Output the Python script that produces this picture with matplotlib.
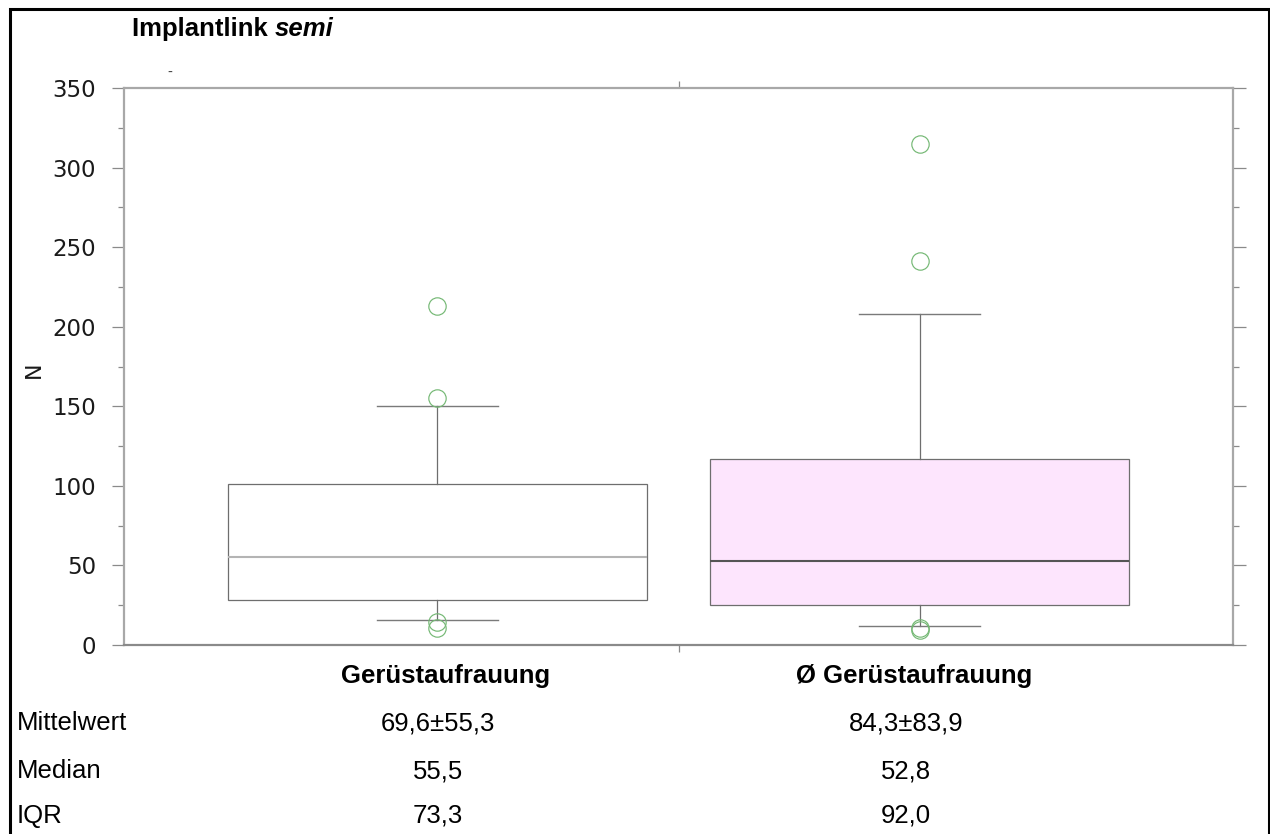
import matplotlib
matplotlib.use("Agg")
from matplotlib import pyplot as plt
from matplotlib.patches import Rectangle

W, H = 1270, 834

# Kennwerte der Boxplots (N)
groups = ["Gerüstaufrauung", "Ø Gerüstaufrauung"]
q1 = [28.0, 25.0]
median = [55.5, 52.8]
q3 = [101.3, 117.0]
whisker_low = [16.0, 12.0]
whisker_high = [150.0, 208.0]
outliers = [[213.0, 155.0, 14.5, 10.5], [315.0, 241.0, 10.5, 9.5]]

# Tabelle unter dem Diagramm
row_labels = ["Mittelwert", "Median", "IQR"]
col_values = [["69,6±55,3", "55,5", "73,3"],
              ["84,3±83,9", "52,8", "92,0"]]

y_ticks = [0, 50, 100, 150, 200, 250, 300, 350]


def fx(px):
    return px / W


def fy(py):
    return 1 - py / H


fig = plt.figure(figsize=(W / 100, H / 100), dpi=100)
ax = fig.add_axes([fx(124), fy(645), fx(1233) - fx(124), fy(88) - fy(645)])

stats = []
for i in range(len(groups)):
    stats.append(dict(q1=q1[i], med=median[i], q3=q3[i],
                      whislo=whisker_low[i], whishi=whisker_high[i],
                      fliers=outliers[i]))

box_fill = ["white", "#fde5fd"]
median_color = ["#b4b4b4", "#555555"]
for i, s in enumerate(stats):
    ax.bxp([s], positions=[i + 1], widths=0.87, capwidths=0.25,
           patch_artist=True, showfliers=True,
           boxprops=dict(facecolor=box_fill[i], edgecolor="#6e6e6e", linewidth=0.9),
           medianprops=dict(color=median_color[i], linewidth=1.5),
           whiskerprops=dict(color="#6e6e6e", linewidth=0.9),
           capprops=dict(color="#7a7a7a", linewidth=1.0),
           flierprops=dict(marker="o", markerfacecolor="none", markeredgecolor="#74b874",
                           markeredgewidth=0.85, markersize=12.5, linestyle="none"))

ax.set_xlim(0.35, 2.65)
ax.set_ylim(0, 350)
ax.set_yticks(y_ticks)
ax.set_yticks(range(25, 350, 50), minor=True)
ax.set_xticks([1.5])
ax.set_xticklabels([])

for side in ["left", "right", "top"]:
    ax.spines[side].set_color("#a8a8a8")
    ax.spines[side].set_linewidth(1.6)
ax.spines["bottom"].set_color("#8a8a8a")
ax.spines["bottom"].set_linewidth(1.6)

ax.tick_params(axis="y", which="major", direction="out", length=9, width=0.9,
               color="#8a8a8a", left=True, right=True, labelsize=16.5, pad=11)
ax.tick_params(axis="y", which="minor", direction="out", length=4.5, width=0.9,
               color="#8a8a8a", left=True, right=True)
ax.tick_params(axis="x", direction="out", length=5, width=0.9, color="#8a8a8a",
               top=True, bottom=True)
for lab in ax.get_yticklabels():
    lab.set_fontfamily("DejaVu Sans")
    lab.set_color("#1a1a1a")

ax.set_ylabel("N", fontsize=16, family="DejaVu Sans", color="#1a1a1a")
ax.yaxis.set_label_coords(-0.072, 0.494)

# Titel: "Implantlink" fett, "semi" fett kursiv
title = fig.text(fx(132), fy(36), "Implantlink ", fontsize=18.5, fontweight="bold",
                 family="Liberation Sans", va="baseline")
fig.canvas.draw()
bb = title.get_window_extent(fig.canvas.get_renderer())
fig.text(bb.x1 / fig.bbox.width, fy(36), "semi", fontsize=18.5, fontweight="bold",
         fontstyle="italic", family="Liberation Sans", va="baseline")
fig.text(fx(170), fy(73), "-", fontsize=10, color="#444444", ha="center", va="center")

# Gruppenbezeichnungen und Tabelle
col_x = [438, 906]
for i, g in enumerate(groups):
    fig.text(fx(col_x[i] + 8), fy(676), g, fontsize=18.5, fontweight="bold",
             family="Liberation Sans", ha="center", va="center")

row_y = [723, 771, 816]
for r, label in enumerate(row_labels):
    fig.text(fx(17), fy(row_y[r]), label, fontsize=18.5, family="Liberation Sans",
             ha="left", va="center")
    for c in range(len(groups)):
        fig.text(fx(col_x[c]), fy(row_y[r]), col_values[c][r], fontsize=18.5,
                 family="Liberation Sans", ha="center", va="center")

# Rahmen um die gesamte Grafik (unten abgeschnitten)
fig.add_artist(Rectangle((fx(9.5), -0.05), fx(1268.5) - fx(9.5), fy(8.5) + 0.05,
                         transform=fig.transFigure, fill=False, edgecolor="black",
                         linewidth=2.2))

fig.savefig("out.png", dpi=100)
